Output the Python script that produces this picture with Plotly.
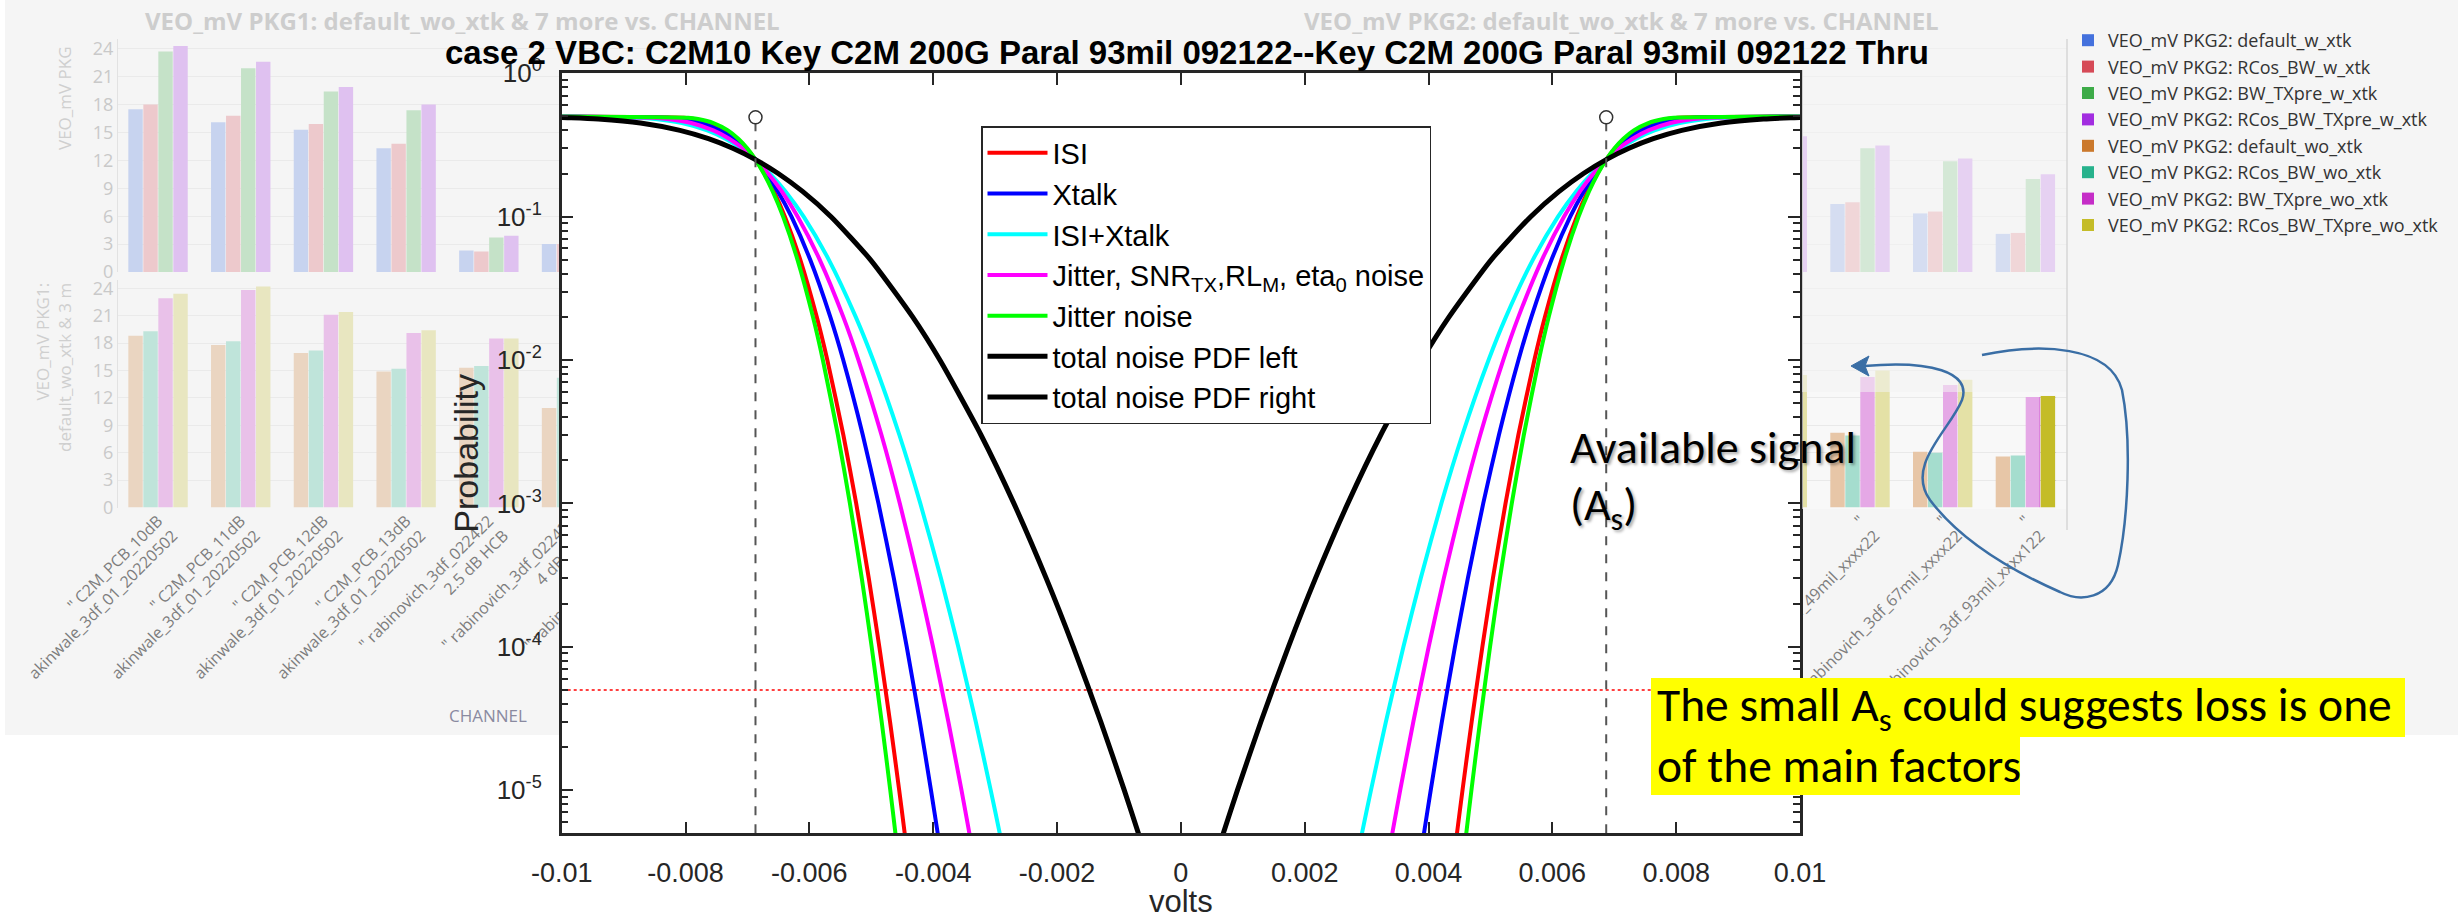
import plotly.graph_objects as go

W, H = 2458, 919


def fx(p):
    return p / W


def fy(p):
    return 1 - p / H


MATLAB_FONT = "Liberation Sans, Arial, Helvetica, sans-serif"
SPOT_FONT = "Open Sans, Noto Sans, sans-serif"
SLIDE_FONT = "Carlito, Lato, Liberation Sans Narrow, sans-serif"

# ---------------- noise probability curves (x in mV) ----------------
PROB = [0.5, 0.49, 0.48, 0.45, 0.4, 0.35, 0.3, 0.25, 0.2, 0.15, 0.1, 0.05, 0.02, 0.01,
        3e-3, 1e-3, 3e-4, 1e-4, 3e-5, 1e-5, 5e-6, 2e-6]
PROB_TOTAL = [0.492, 0.49, 0.48, 0.45, 0.4, 0.35, 0.3, 0.25, 0.2, 0.15, 0.1, 0.05, 0.02, 0.01,
              3e-3, 1e-3, 3e-4, 1e-4, 3e-5, 1e-5, 5e-6, 2e-6]

ISI_LEFT_MV = [-10, -8.030, -7.859, -7.594, -7.346, -7.166, -7.013, -6.870, -6.727, -6.574, -6.395,
               -6.146, -5.881, -5.710, -5.451, -5.244, -5.040, -4.870, -4.697, -4.549, -4.460, -4.347]
ISI_RIGHT_MV = [10, 8.030, 7.859, 7.594, 7.346, 7.166, 7.013, 6.870, 6.727, 6.574, 6.395,
                6.146, 5.881, 5.710, 5.451, 5.244, 5.040, 4.870, 4.697, 4.549, 4.460, 4.347]
XTALK_LEFT_MV = [-10, -8.287, -8.078, -7.754, -7.451, -7.232, -7.045, -6.870, -6.695, -6.508, -6.289,
                 -5.986, -5.662, -5.453, -5.137, -4.884, -4.635, -4.427, -4.216, -4.036, -3.927, -3.789]
XTALK_RIGHT_MV = [10, 8.287, 8.078, 7.754, 7.451, 7.232, 7.045, 6.870, 6.695, 6.508, 6.289,
                  5.986, 5.662, 5.453, 5.137, 4.884, 4.635, 4.427, 4.216, 4.036, 3.927, 3.789]
ISIXT_LEFT_MV = [-10, -8.770, -8.489, -8.056, -7.649, -7.355, -7.104, -6.870, -6.636, -6.385, -6.092,
                 -5.685, -5.251, -4.970, -4.546, -4.208, -3.874, -3.595, -3.312, -3.071, -2.925, -2.740]
ISIXT_RIGHT_MV = [10, 8.770, 8.489, 8.056, 7.649, 7.355, 7.104, 6.870, 6.636, 6.385, 6.092,
                  5.685, 5.251, 4.970, 4.546, 4.208, 3.874, 3.595, 3.312, 3.071, 2.925, 2.740]
JSNR_LEFT_MV = [-10, -8.534, -8.288, -7.908, -7.552, -7.295, -7.075, -6.870, -6.665, -6.445, -6.188,
                -5.832, -5.452, -5.207, -4.835, -4.539, -4.247, -4.003, -3.755, -3.543, -3.415, -3.253]
JSNR_RIGHT_MV = [10, 8.534, 8.288, 7.908, 7.552, 7.295, 7.075, 6.870, 6.665, 6.445, 6.188,
                 5.832, 5.452, 5.207, 4.835, 4.539, 4.247, 4.003, 3.755, 3.543, 3.415, 3.253]
JIT_LEFT_MV = [-10, -7.958, -7.798, -7.549, -7.316, -7.148, -7.004, -6.870, -6.736, -6.592, -6.424,
               -6.191, -5.942, -5.782, -5.539, -5.345, -5.153, -4.994, -4.832, -4.693, -4.610, -4.504]
JIT_RIGHT_MV = [10, 7.958, 7.798, 7.549, 7.316, 7.148, 7.004, 6.870, 6.736, 6.592, 6.424,
                6.191, 5.942, 5.782, 5.539, 5.345, 5.153, 4.994, 4.832, 4.693, 4.610, 4.504]
TOTAL_LEFT_MV = [-10, -9.848, -9.409, -8.728, -8.090, -7.630, -7.237, -6.870, -6.503, -6.110, -5.650,
                 -5.012, -4.332, -3.892, -3.228, -2.697, -2.174, -1.737, -1.293, -0.914, -0.686, -0.396]
TOTAL_RIGHT_MV = [10, 9.848, 9.409, 8.728, 8.090, 7.630, 7.237, 6.870, 6.503, 6.110, 5.650,
                  5.012, 4.332, 3.892, 3.228, 2.697, 2.174, 1.737, 1.293, 0.914, 0.686, 0.396]

AS_MV = [-6.87, 6.87]          # available-signal markers
AS_MARK_P = 0.493
TARGET_P = 5e-5
X_RANGE = [-0.01, 0.01]
Y_MIN = 5e-6
X_TICKS = [-0.01, -0.008, -0.006, -0.004, -0.002, 0, 0.002, 0.004, 0.006, 0.008, 0.01]
X_TICK_TEXT = ["-0.01", "-0.008", "-0.006", "-0.004", "-0.002", "0", "0.002", "0.004", "0.006", "0.008", "0.01"]
Y_TICKS = [1e-5, 1e-4, 1e-3, 1e-2, 1e-1, 1]
Y_TICK_TEXT = ["10<sup>-5</sup>", "10<sup>-4</sup>", "10<sup>-3</sup>", "10<sup>-2</sup>",
               "10<sup>-1</sup>", "10<sup>0</sup>"]

# ---------------- background bar charts (VEO in mV) ----------------
PKG1_CHANNELS = ['" C2M_PCB_10dB<br>akinwale_3df_01_20220502',
                 '" C2M_PCB_11dB<br>akinwale_3df_01_20220502',
                 '" C2M_PCB_12dB<br>akinwale_3df_01_20220502',
                 '" C2M_PCB_13dB<br>akinwale_3df_01_20220502',
                 '" rabinovich_3df_022422<br>2.5 dB HCB',
                 '" rabinovich_3df_022422<br>4 dB HCB',
                 '" rabinovich_3df_022422<br>5.5 dB HCB']
PKG1_DEFAULT_W = [17.5, 16.1, 15.3, 13.3, 2.3, 3.0, 2.8]
PKG1_RCOS_W = [18.0, 16.8, 15.9, 13.8, 2.2, 3.0, 2.8]
PKG1_TXPRE_W = [23.7, 21.9, 19.4, 17.4, 3.7, 4.6, 4.4]
PKG1_RCOS_TXPRE_W = [24.3, 22.6, 19.9, 18.0, 3.9, 4.8, 4.6]
PKG1_DEFAULT_WO = [18.8, 17.8, 16.9, 14.9, 15.3, 10.9, 9.0]
PKG1_RCOS_WO = [19.3, 18.2, 17.2, 15.2, 15.5, 14.2, 11.0]
PKG1_TXPRE_WO = [22.9, 23.8, 21.1, 19.1, 18.5, 16.0, 14.0]
PKG1_RCOS_TXPRE_WO = [23.4, 24.2, 21.4, 19.4, 18.5, 16.3, 14.3]

PKG2_CHANNELS = ['"<br>rabinovich_3df_29mil_xxxx22',
                 '"<br>rabinovich_3df_49mil_xxxx22',
                 '"<br>rabinovich_3df_67mil_xxxx22',
                 '"<br>rabinovich_3df_93mil_xxxx122']
PKG2_DEFAULT_W = [8.3, 7.3, 6.3, 4.1]
PKG2_RCOS_W = [8.5, 7.5, 6.5, 4.2]
PKG2_TXPRE_W = [14.3, 13.3, 11.9, 10.0]
PKG2_RCOS_TXPRE_W = [14.6, 13.6, 12.2, 10.5]
PKG2_DEFAULT_WO = [9.4, 8.2, 6.1, 5.6]
PKG2_RCOS_WO = [9.0, 7.9, 6.0, 5.7]
PKG2_TXPRE_WO = [14.0, 14.3, 13.4, 12.1]
PKG2_RCOS_TXPRE_WO = [14.5, 15.0, 14.0, 12.2]
MARKED_CHANNEL = 3   # marked (highlighted) bar: RCos_BW_TXpre_wo_xtk

W_NAMES = ["default_w_xtk", "RCos_BW_w_xtk", "BW_TXpre_w_xtk", "RCos_BW_TXpre_w_xtk"]
WO_NAMES = ["default_wo_xtk", "RCos_BW_wo_xtk", "BW_TXpre_wo_xtk", "RCos_BW_TXpre_wo_xtk"]
COLORS_W = ["#4471dd", "#d64a57", "#3dab48", "#a22de0"]
COLORS_WO = ["#cb792c", "#27b28c", "#c52dc7", "#c4bc28"]

# ---------------- geometry (pixels) ----------------
MAIN_X_PX = (561.7, 1800.0)
MAIN_Y_PX = (73.3, 833.3)
TOP_ROW_PX = (39.0, 272.0)
BOT_ROW_PX = (280.0, 507.6)
TOP_RANGE = [0, 25.05]
BOT_RANGE = [0, 24.9]
PKG1_X_PX = (118.0, 695.6)
PKG1_RANGE = [-0.484, 6.5]
PKG2_X_PX = (1800.0, 2067.0)
PKG2_RANGE = [0.2745, 3.503]
BARGAP = 0.2745
BARGROUPGAP = 0.04
BG_GRAY = (245, 245, 245)


def fade(hexcol, a, bg=BG_GRAY):
    r, g, b = int(hexcol[1:3], 16), int(hexcol[3:5], 16), int(hexcol[5:7], 16)
    return "rgb(%d,%d,%d)" % (round(r * (1 - a) + bg[0] * a), round(g * (1 - a) + bg[1] * a),
                              round(b * (1 - a) + bg[2] * a))


def mv(lst):
    return [v / 1000.0 for v in lst]


fig = go.Figure()

# ---- PKG1 (left, faded) ----
for vals, col in zip([PKG1_DEFAULT_W, PKG1_RCOS_W, PKG1_TXPRE_W, PKG1_RCOS_TXPRE_W], COLORS_W):
    fig.add_bar(x=PKG1_CHANNELS, y=vals, marker=dict(color=fade(col, 0.74), line=dict(width=0)),
                xaxis="x", yaxis="y", showlegend=False, hoverinfo="skip")
for vals, col in zip([PKG1_DEFAULT_WO, PKG1_RCOS_WO, PKG1_TXPRE_WO, PKG1_RCOS_TXPRE_WO], COLORS_WO):
    fig.add_bar(x=PKG1_CHANNELS, y=vals, marker=dict(color=fade(col, 0.74), line=dict(width=0)),
                xaxis="x2", yaxis="y2", showlegend=False, hoverinfo="skip")

# ---- PKG2 (right piece; carries the legend) ----
for name, vals, col in zip(W_NAMES, [PKG2_DEFAULT_W, PKG2_RCOS_W, PKG2_TXPRE_W, PKG2_RCOS_TXPRE_W], COLORS_W):
    fig.add_bar(x=PKG2_CHANNELS, y=vals, name="VEO_mV PKG2: " + name,
                marker=dict(color=col, line=dict(width=0)),
                xaxis="x3", yaxis="y3", legend="legend2", hoverinfo="skip")
for name, vals, col in zip(WO_NAMES, [PKG2_DEFAULT_WO, PKG2_RCOS_WO, PKG2_TXPRE_WO, PKG2_RCOS_TXPRE_WO], COLORS_WO):
    fig.add_bar(x=PKG2_CHANNELS, y=vals, name="VEO_mV PKG2: " + name,
                marker=dict(color=col, line=dict(width=0)),
                xaxis="x4", yaxis="y4", legend="legend2", hoverinfo="skip")

# ---- main MATLAB-style chart (last subplot => drawn on top) ----
fig.add_scatter(x=[X_RANGE[0], X_RANGE[1], X_RANGE[1], X_RANGE[0], X_RANGE[0]],
                y=[Y_MIN, Y_MIN, 1, 1, Y_MIN], mode="lines", fill="toself", fillcolor="white",
                line=dict(width=0, color="white"), xaxis="x5", yaxis="y5", showlegend=False, hoverinfo="skip")
fig.add_scatter(x=X_RANGE, y=[TARGET_P, TARGET_P], mode="lines",
                line=dict(color="#ff0000", width=1.5, dash="dot"),
                xaxis="x5", yaxis="y5", showlegend=False, hoverinfo="skip")

colored = [
    ("ISI", "#ff0000", ISI_LEFT_MV, ISI_RIGHT_MV),
    ("Xtalk", "#0000ff", XTALK_LEFT_MV, XTALK_RIGHT_MV),
    ("ISI+Xtalk", "#00ffff", ISIXT_LEFT_MV, ISIXT_RIGHT_MV),
    ("Jitter, SNR<sub>TX</sub>,RL<sub>M</sub>, eta<sub>0</sub> noise", "#ff00ff", JSNR_LEFT_MV, JSNR_RIGHT_MV),
    ("Jitter noise", "#00ff00", JIT_LEFT_MV, JIT_RIGHT_MV),
]
for name, col, left, right in colored:
    fig.add_scatter(x=mv(left) + [None] + mv(right), y=PROB + [None] + PROB, mode="lines", name=name,
                    line=dict(color=col, width=4, shape="spline", smoothing=0.6),
                    xaxis="x5", yaxis="y5", legend="legend", hoverinfo="skip")
fig.add_scatter(x=mv(TOTAL_LEFT_MV), y=PROB_TOTAL, mode="lines", name="total noise PDF left",
                line=dict(color="black", width=5, shape="spline", smoothing=0.6),
                xaxis="x5", yaxis="y5", legend="legend", hoverinfo="skip")
fig.add_scatter(x=mv(TOTAL_RIGHT_MV), y=PROB_TOTAL, mode="lines", name="total noise PDF right",
                line=dict(color="black", width=5, shape="spline", smoothing=0.6),
                xaxis="x5", yaxis="y5", legend="legend", hoverinfo="skip")
for a in mv(AS_MV):
    fig.add_scatter(x=[a, a], y=[Y_MIN, AS_MARK_P], mode="lines",
                    line=dict(color="#555555", width=2, dash="dash"),
                    xaxis="x5", yaxis="y5", showlegend=False, hoverinfo="skip")
fig.add_scatter(x=mv(AS_MV), y=[AS_MARK_P, AS_MARK_P], mode="markers",
                marker=dict(symbol="circle", size=13, color="white", line=dict(color="#333333", width=1.5)),
                xaxis="x5", yaxis="y5", showlegend=False, hoverinfo="skip")

# ---------------- axes ----------------
spot_grid = dict(showgrid=True, zeroline=False, dtick=3, tick0=0, ticks="", automargin=False)
fig.update_layout(
    xaxis=dict(domain=[fx(PKG1_X_PX[0]), fx(PKG1_X_PX[1])], range=PKG1_RANGE, anchor="y", automargin=False,
               showticklabels=False, showgrid=False, zeroline=False, showline=False),
    yaxis=dict(domain=[fy(TOP_ROW_PX[1]), fy(TOP_ROW_PX[0])], range=TOP_RANGE, anchor="x",
               gridcolor="#eaeaea", showline=True, linecolor="#e2e2e2", linewidth=1,
               tickfont=dict(family=SPOT_FONT, size=18, color="#c9c9c9"), ticklabelstandoff=0, **spot_grid),
    xaxis2=dict(domain=[fx(PKG1_X_PX[0]), fx(PKG1_X_PX[1])], range=PKG1_RANGE, anchor="y2", automargin=False,
                showgrid=False, zeroline=False, showline=False, ticks="", tickangle=-45,
                tickfont=dict(family=SPOT_FONT, size=16, color="#7d7d7d")),
    yaxis2=dict(domain=[fy(BOT_ROW_PX[1]), fy(BOT_ROW_PX[0])], range=BOT_RANGE, anchor="x2",
                gridcolor="#eaeaea", showline=True, linecolor="#e2e2e2", linewidth=1,
                tickfont=dict(family=SPOT_FONT, size=18, color="#c9c9c9"), ticklabelstandoff=0, **spot_grid),
    xaxis3=dict(domain=[fx(PKG2_X_PX[0]), fx(PKG2_X_PX[1])], range=PKG2_RANGE, anchor="y3", automargin=False,
                showticklabels=False, showgrid=False, zeroline=False, showline=False),
    yaxis3=dict(domain=[fy(TOP_ROW_PX[1]), fy(TOP_ROW_PX[0])], range=TOP_RANGE, anchor="x3",
                gridcolor="#d0d0d0", showticklabels=False, **spot_grid),
    xaxis4=dict(domain=[fx(PKG2_X_PX[0]), fx(PKG2_X_PX[1])], range=PKG2_RANGE, anchor="y4", automargin=False,
                showgrid=False, zeroline=False, showline=False, ticks="", tickangle=-45,
                tickfont=dict(family=SPOT_FONT, size=16, color="#7d7d7d")),
    yaxis4=dict(domain=[fy(BOT_ROW_PX[1]), fy(BOT_ROW_PX[0])], range=BOT_RANGE, anchor="x4",
                gridcolor="#d0d0d0", showticklabels=False, **spot_grid),
    xaxis5=dict(domain=[fx(MAIN_X_PX[0]), fx(MAIN_X_PX[1])], range=X_RANGE, anchor="y5", automargin=False,
                tickmode="array", tickvals=X_TICKS, ticktext=X_TICK_TEXT,
                ticks="inside", ticklen=12, tickwidth=2, tickcolor="#262626",
                showline=True, linecolor="#262626", linewidth=2.5, mirror="ticks",
                showgrid=False, zeroline=False, ticklabelstandoff=14,
                tickfont=dict(family=MATLAB_FONT, size=27, color="#262626"),
                title=dict(text="volts", font=dict(family=MATLAB_FONT, size=31, color="#262626"), standoff=6)),
    yaxis5=dict(domain=[fy(MAIN_Y_PX[1]), fy(MAIN_Y_PX[0])], type="log", range=[-5.30103, 0], anchor="x5",
                automargin=False,
                tickmode="array", tickvals=Y_TICKS, ticktext=Y_TICK_TEXT,
                ticks="inside", ticklen=12, tickwidth=2, tickcolor="#262626",
                minor=dict(tickmode="array",
                           tickvals=[m * 10.0 ** e for e in range(-6, 0) for m in range(2, 10) if m * 10.0 ** e >= Y_MIN],
                           ticks="inside", ticklen=7, tickwidth=1.5, tickcolor="#262626"),
                showline=True, linecolor="#262626", linewidth=2.5, mirror="ticks",
                showgrid=False, zeroline=False, ticklabelstandoff=12,
                tickfont=dict(family=MATLAB_FONT, size=26, color="#262626"),
                title=dict(text="Probability", font=dict(family=MATLAB_FONT, size=34, color="#262626"), standoff=8)),
)

fig.update_layout(
    width=W, height=H, autosize=False,
    margin=dict(l=0, r=0, t=0, b=0, pad=0, autoexpand=False),
    paper_bgcolor="white", plot_bgcolor="rgba(0,0,0,0)",
    barmode="group", bargap=BARGAP, bargroupgap=BARGROUPGAP,
    title=dict(text="<b>case 2 VBC: C2M10 Key C2M 200G Paral 93mil 092122--Key C2M 200G Paral 93mil 092122 Thru</b>",
               x=fx(1187), xanchor="center", y=fy(52), yanchor="middle",
               font=dict(family=MATLAB_FONT, size=33, color="black")),
    legend=dict(x=fx(981), y=fy(126), xanchor="left", yanchor="top", bgcolor="white",
                bordercolor="#262626", borderwidth=1.5, itemwidth=60, traceorder="normal",
                font=dict(family=MATLAB_FONT, size=29, color="black")),
    legend2=dict(x=fx(2068), y=fy(22), xanchor="left", yanchor="top", bgcolor="rgba(0,0,0,0)",
                 borderwidth=0, traceorder="normal", font=dict(family=SPOT_FONT, size=18, color="#333333")),
)


# ---------------- shapes ----------------
def rect_path(x0, y0, x1, y1):
    return "M%f,%f L%f,%f L%f,%f L%f,%f Z" % (fx(x0), fy(y0), fx(x1), fy(y0), fx(x1), fy(y1), fx(x0), fy(y1))


# location of the marked bar (computed from the same bar layout parameters)
grp = 1 - BARGAP
slot = grp / 4
cx = MARKED_CHANNEL - grp / 2 + slot * 3.5
half = slot * (1 - BARGROUPGAP) / 2
px_per = (PKG2_X_PX[1] - PKG2_X_PX[0]) / (PKG2_RANGE[1] - PKG2_RANGE[0])
mx0 = PKG2_X_PX[0] + (cx - half - PKG2_RANGE[0]) * px_per - 1
mx1 = PKG2_X_PX[0] + (cx + half - PKG2_RANGE[0]) * px_per + 1
my0 = BOT_ROW_PX[1] - PKG2_RCOS_TXPRE_WO[MARKED_CHANNEL] / BOT_RANGE[1] * (BOT_ROW_PX[1] - BOT_ROW_PX[0]) - 1
my1 = BOT_ROW_PX[1] + 1

shapes = [
    dict(type="rect", xref="paper", yref="paper", x0=fx(5), x1=1, y0=fy(735), y1=1,
         fillcolor="#f5f5f5", line=dict(width=0), layer="below"),
    # faded overlay on the visible slice of the PKG2 chart
    dict(type="path", xref="paper", yref="paper", path=rect_path(1802, 0, 2067, 392),
         fillcolor="rgba(245,245,245,0.82)", line=dict(width=0), layer="above"),
    dict(type="path", xref="paper", yref="paper",
         path=rect_path(1802, 392, 2067, 509) + " " + rect_path(mx0, my0, mx1, my1),
         fillrule="evenodd", fillcolor="rgba(250,250,250,0.6)", line=dict(width=0), layer="above"),
    dict(type="line", xref="paper", yref="paper", x0=fx(2067), x1=fx(2067), y0=fy(530), y1=fy(39),
         line=dict(color="#d6d6d6", width=1.5), layer="above"),
    # yellow highlight boxes
    dict(type="rect", xref="paper", yref="paper", x0=fx(1651), x1=fx(2405), y0=fy(737), y1=fy(678),
         fillcolor="#ffff00", line=dict(width=0), layer="above"),
    dict(type="rect", xref="paper", yref="paper", x0=fx(1651), x1=fx(2020), y0=fy(795), y1=fy(737),
         fillcolor="#ffff00", line=dict(width=0), layer="above"),
]


def pp(x, y):
    return "%f,%f" % (fx(x), fy(y))


arrow = ("M" + pp(1982, 355) + " C" + pp(2040, 343) + " " + pp(2110, 345) + " " + pp(2122, 390) +
         " C" + pp(2132, 440) + " " + pp(2128, 520) + " " + pp(2118, 565) +
         " C" + pp(2110, 600) + " " + pp(2080, 602) + " " + pp(2060, 592) +
         " C" + pp(2010, 570) + " " + pp(1960, 540) + " " + pp(1930, 500) +
         " C" + pp(1905, 465) + " " + pp(1950, 430) + " " + pp(1962, 400) +
         " C" + pp(1972, 372) + " " + pp(1930, 360) + " " + pp(1864, 366))
shapes.append(dict(type="path", xref="paper", yref="paper", path=arrow,
                   line=dict(color="#3a6ea5", width=2.5), layer="above"))
shapes.append(dict(type="path", xref="paper", yref="paper",
                   path="M" + pp(1851, 366) + " L" + pp(1869, 356) + " L" + pp(1865, 366) + " L" + pp(1869, 376) + " Z",
                   fillcolor="#3a6ea5", line=dict(color="#3a6ea5", width=1), layer="above"))
fig.update_layout(shapes=shapes)

# ---------------- annotations ----------------
ann = [
    dict(text="<b>VEO_mV PKG1: default_wo_xtk &amp; 7 more vs. CHANNEL</b>", x=fx(462), y=fy(20),
         font=dict(family=SPOT_FONT, size=24, color="#cdcdcd")),
    dict(text="<b>VEO_mV PKG2: default_wo_xtk &amp; 7 more vs. CHANNEL</b>", x=fx(1621), y=fy(20),
         font=dict(family=SPOT_FONT, size=24, color="#cdcdcd")),
    dict(text="VEO_mV PKG", x=fx(65), y=fy(98), textangle=-90,
         font=dict(family=SPOT_FONT, size=17, color="#cfcfcf")),
    dict(text="VEO_mV PKG1:<br>default_wo_xtk &amp; 3 m", x=fx(53), y=fy(368), textangle=-90, align="right",
         font=dict(family=SPOT_FONT, size=17, color="#cfcfcf")),
    dict(text="CHANNEL", x=fx(488), y=fy(715), font=dict(family=SPOT_FONT, size=17, color="#8a8aa0")),
    dict(text="Available signal", x=fx(1568), y=fy(447), xanchor="left",
         font=dict(family=SLIDE_FONT, size=46, color="black", shadow="2px 2px 3px rgba(0,0,0,0.35)")),
    dict(text="(A<sub>s</sub>)", x=fx(1568), y=fy(507), xanchor="left",
         font=dict(family=SLIDE_FONT, size=46, color="black", shadow="2px 2px 3px rgba(0,0,0,0.35)")),
    dict(text="The small A<sub>s</sub> could suggests loss is one", x=fx(1655), y=fy(708), xanchor="left",
         font=dict(family=SLIDE_FONT, size=47.5, color="black")),
    dict(text="of the main factors", x=fx(1655), y=fy(766), xanchor="left",
         font=dict(family=SLIDE_FONT, size=47.5, color="black")),
]
for a in ann:
    a.setdefault("xref", "paper")
    a.setdefault("yref", "paper")
    a.setdefault("showarrow", False)
    a.setdefault("xanchor", "center")
    a.setdefault("yanchor", "middle")
fig.update_layout(annotations=ann)

fig.write_html("out.html")
